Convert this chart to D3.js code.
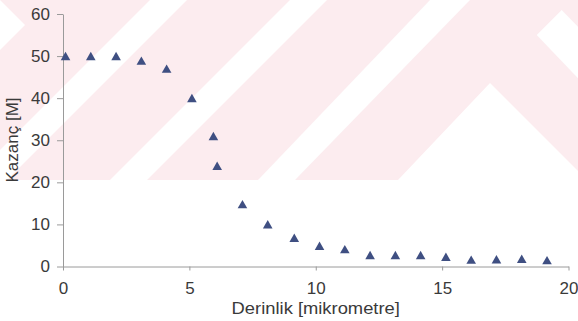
<!DOCTYPE html>
<html>
<head>
<meta charset="utf-8">
<script src="https://cdn.jsdelivr.net/npm/d3@7"></script>
<style>
  html, body { margin: 0; padding: 0; background: #ffffff; }
  svg { display: block; }
  text { font-family: "Liberation Sans", Arial, sans-serif; fill: #3a3a3a; }
</style>
</head>
<body>
<svg id="chart" width="578" height="321"></svg>
<script>
// ---- data ----
const depth = [0.1, 1.1, 2.1, 3.1, 4.1, 5.1, 5.95, 6.1, 7.1, 8.1, 9.15, 10.15, 11.15, 12.15, 13.15, 14.15, 15.15, 16.15, 17.15, 18.15, 19.15];
const gain  = [50, 50, 50, 48.9, 47, 40, 31, 23.9, 14.8, 10, 6.8, 4.9, 4.1, 2.7, 2.7, 2.7, 2.3, 1.6, 1.7, 1.8, 1.5];
const xTicks = [0, 5, 10, 15, 20];
const yTicks = [0, 10, 20, 30, 40, 50, 60];
const xTitle = "Derinlik [mikrometre]";
const yTitle = "Kazanç [M]";

// ---- layout ----
const W = 578, H = 321;
const margin = { top: 14, right: 9.5, bottom: 54.5, left: 63 };
const svg = d3.select("#chart");

// ---- background watermark (decoration) ----
const wm = svg.append("g");
const pinkH = 180;
wm.append("rect").attr("x", 0).attr("y", 0).attr("width", W).attr("height", pinkH).attr("fill", "#fcecef");
const whiteShapes = [
  [[0, 0], [25, 25], [0, 50]],
  [[150, 0], [187, 0], [7, pinkH], [-30, pinkH]],
  [[290, 0], [327, 0], [147, pinkH], [110, pinkH]],
  [[430, 0], [470, 0], [295, pinkH], [258, pinkH]],
  [[490, 83], [578, 171], [578, pinkH], [398, pinkH]],
  [[561.7, 10], [578, 26.7], [578, 78.3], [536.7, 35]]
];
wm.selectAll("polygon").data(whiteShapes).join("polygon")
  .attr("points", d => d.map(p => p.join(",")).join(" "))
  .attr("fill", "#ffffff");

// ---- scales ----
const x = d3.scaleLinear().domain([0, 20]).range([margin.left, W - margin.right]);
const y = d3.scaleLinear().domain([0, 60]).range([H - margin.bottom, margin.top]);

// ---- axes ----
const axisColor = "#9a9a9a";
const gx = svg.append("g").attr("transform", `translate(0,${H - margin.bottom})`)
  .call(d3.axisBottom(x).tickValues(xTicks).tickSize(4).tickSizeOuter(0).tickPadding(11.5));
const gy = svg.append("g").attr("transform", `translate(${margin.left},0)`)
  .call(d3.axisLeft(y).tickValues(yTicks).tickSize(6).tickSizeOuter(0).tickPadding(7));
[gx, gy].forEach(g => {
  g.select(".domain").attr("stroke", axisColor).attr("stroke-width", 1);
  g.selectAll(".tick line").attr("stroke", axisColor).attr("stroke-width", 1);
  g.selectAll(".tick text").attr("font-size", 17).attr("fill", "#3a3a3a")
    .style("font-family", "'Liberation Sans', Arial, sans-serif");
});

// ---- axis titles ----
svg.append("text")
  .attr("transform", `translate(${(margin.left + W - margin.right) / 2},313.5) scale(1.08,1)`)
  .attr("text-anchor", "middle").attr("font-size", 17)
  .text(xTitle);
svg.append("text")
  .attr("transform", `translate(18,140) rotate(-90)`)
  .attr("text-anchor", "middle").attr("font-size", 17)
  .text(yTitle);

// ---- markers ----
const pts = depth.map((d, i) => ({ x: d, y: gain[i] }));
const tri = "M0,-4.3L4.8,4.1L-4.8,4.1Z";
svg.append("g").selectAll("path").data(pts).join("path")
  .attr("d", tri)
  .attr("transform", d => `translate(${x(d.x)},${y(d.y)})`)
  .attr("fill", "#3f4f82");
</script>
</body>
</html>
